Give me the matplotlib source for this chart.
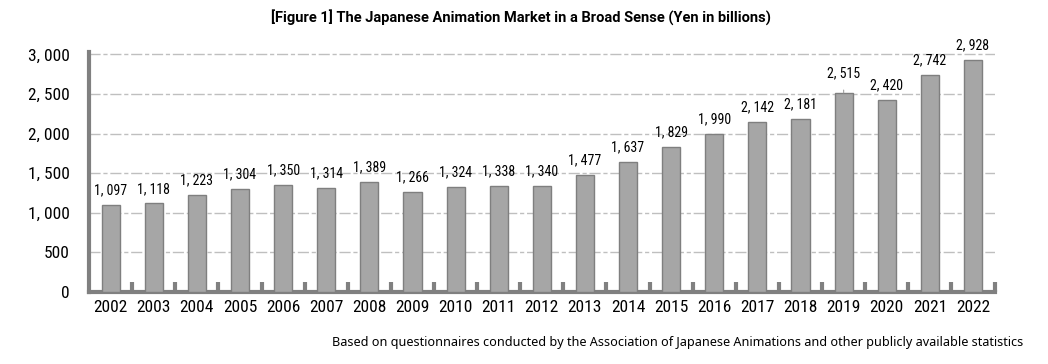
import matplotlib
matplotlib.use('Agg')
import matplotlib.pyplot as plt
import numpy as np

years = [str(y) for y in range(2002, 2023)]
market = [1097, 1118, 1223, 1304, 1350, 1314, 1389, 1266, 1324, 1338, 1340,
          1477, 1637, 1829, 1990, 2142, 2181, 2515, 2420, 2742, 2928]
yticks = [0, 500, 1000, 1500, 2000, 2500, 3000]

plt.rcParams['font.family'] = ['Roboto Condensed', 'DejaVu Sans']


def fmt(v):
    return f'{v // 1000}, {v % 1000:03d}' if v >= 1000 else str(v)


fig = plt.figure(figsize=(10.48, 3.64), dpi=100)
ax = fig.add_axes([0.085, 0.198, 0.864, 0.658])

x = np.arange(len(years))
ax.bar(x, market, width=0.42, color='#a6a6a6', edgecolor='#7f7f7f', linewidth=1.0, zorder=3)

for xi, v in zip(x, market):
    if v == 2515:
        ax.annotate(fmt(v), (xi, v), xytext=(0, 14), textcoords='offset points',
                    ha='center', va='center', fontsize=10,
                    arrowprops=dict(arrowstyle='-', color='#a0a0a0', lw=0.8,
                                    shrinkA=5, shrinkB=0))
    else:
        ax.annotate(fmt(v), (xi, v), xytext=(0, 10.5), textcoords='offset points',
                    ha='center', va='center', fontsize=10)

ax.set_xlim(-0.5, len(years) - 0.5)
ax.set_ylim(0, 3025)
ax.set_yticks(yticks)
ax.set_yticklabels([fmt(t) for t in yticks], fontsize=12.5)
ax.set_xticks(x)
ax.set_xticklabels(years, fontsize=12.5)
ax.tick_params(axis='x', length=0, pad=6)
ax.tick_params(axis='y', length=0, pad=14)
ax.set_xticks(np.append(x[1:] - 0.5, len(years) - 0.5), minor=True)
ax.tick_params(axis='x', which='minor', direction='in', length=7, width=3, color='#808080')

ax.yaxis.grid(True, color='#bfbfbf', linewidth=1.0, linestyle=(0, (8, 2, 3, 2)), zorder=0)
for s in ['top', 'right']:
    ax.spines[s].set_visible(False)
for s in ['left', 'bottom']:
    ax.spines[s].set_color('#808080')
    ax.spines[s].set_linewidth(3)

fig.text(0.497, 0.952, '[Figure 1] The Japanese Animation Market in a Broad Sense (Yen in billions)',
         ha='center', va='center', fontsize=10.5, fontweight='bold', family=['Roboto', 'DejaVu Sans'])
fig.text(0.976, 0.06, 'Based on questionnaires conducted by the Association of Japanese Animations and other publicly available statistics',
         ha='right', va='center', fontsize=9.1, family=['Noto Sans', 'DejaVu Sans'])

fig.savefig('out.png', dpi=100)
